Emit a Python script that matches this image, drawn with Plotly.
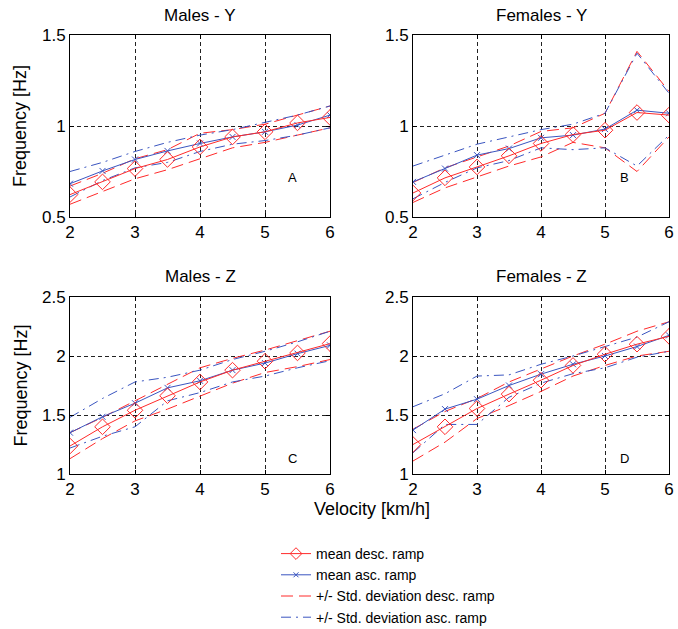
import plotly.graph_objects as go

vel = [2, 2.5, 3, 3.5, 4, 4.5, 5, 5.5, 6]

# Panel A: Males - Y
a_desc = [0.623, 0.693, 0.766, 0.816, 0.885, 0.940, 0.968, 1.017, 1.047]
a_asc = [0.683, 0.753, 0.816, 0.863, 0.904, 0.940, 0.968, 1.005, 1.060]
a_desc_up = [0.67, 0.74, 0.82, 0.87, 0.96, 0.98, 1.01, 1.06, 1.11]
a_desc_lo = [0.57, 0.64, 0.71, 0.76, 0.82, 0.88, 0.91, 0.95, 0.99]
a_asc_up = [0.75, 0.80, 0.86, 0.91, 0.95, 0.98, 1.02, 1.06, 1.11]
a_asc_lo = [0.61, 0.70, 0.77, 0.80, 0.86, 0.90, 0.92, 0.95, 0.99]

# Panel B: Females - Y
b_desc = [0.632, 0.715, 0.775, 0.836, 0.904, 0.953, 0.977, 1.074, 1.060]
b_asc = [0.693, 0.766, 0.840, 0.876, 0.935, 0.950, 0.983, 1.087, 1.070]
b_desc_up = [0.69, 0.77, 0.83, 0.89, 0.97, 0.99, 1.07, 1.41, 1.19]
b_desc_lo = [0.58, 0.66, 0.72, 0.78, 0.83, 0.91, 0.88, 0.75, 0.94]
b_asc_up = [0.78, 0.84, 0.90, 0.94, 0.98, 1.01, 1.07, 1.40, 1.18]
b_asc_lo = [0.60, 0.69, 0.77, 0.81, 0.88, 0.87, 0.88, 0.78, 0.95]

# Panel C: Males - Z
c_desc = [1.237, 1.400, 1.540, 1.663, 1.780, 1.880, 1.956, 2.026, 2.105]
c_asc = [1.350, 1.485, 1.600, 1.730, 1.790, 1.880, 1.940, 2.020, 2.090]
c_desc_up = [1.35, 1.48, 1.62, 1.76, 1.90, 1.98, 2.05, 2.13, 2.21]
c_desc_lo = [1.13, 1.30, 1.45, 1.55, 1.66, 1.77, 1.86, 1.91, 1.97]
c_asc_up = [1.48, 1.64, 1.78, 1.82, 1.88, 1.97, 2.04, 2.12, 2.21]
c_asc_lo = [1.22, 1.32, 1.40, 1.62, 1.69, 1.78, 1.83, 1.90, 1.96]

# Panel D: Females - Z
d_desc = [1.250, 1.400, 1.555, 1.677, 1.795, 1.920, 2.015, 2.100, 2.167]
d_asc = [1.372, 1.550, 1.634, 1.750, 1.846, 1.930, 2.000, 2.080, 2.175]
d_desc_up = [1.38, 1.53, 1.64, 1.78, 1.89, 2.00, 2.10, 2.21, 2.29]
d_desc_lo = [1.11, 1.27, 1.47, 1.58, 1.70, 1.83, 1.92, 2.00, 2.04]
d_asc_up = [1.57, 1.68, 1.83, 1.84, 1.93, 2.00, 2.08, 2.16, 2.29]
d_asc_lo = [1.18, 1.42, 1.42, 1.65, 1.77, 1.85, 1.90, 1.99, 2.04]

panel_titles = ["Males - Y", "Females - Y", "Males - Z", "Females - Z"]
panel_letters = ["A", "B", "C", "D"]
legend_names = ["mean desc. ramp", "mean asc. ramp",
                "+/- Std. deviation desc. ramp", "+/- Std. deviation asc. ramp"]

RED = "#ff2a2a"
BLUE = "#3a55c0"
FONT = "Liberation Sans, Arial, sans-serif"
W, H = 678, 629

panels = [
    (a_desc, a_asc, a_desc_up, a_desc_lo, a_asc_up, a_asc_lo),
    (b_desc, b_asc, b_desc_up, b_desc_lo, b_asc_up, b_asc_lo),
    (c_desc, c_asc, c_desc_up, c_desc_lo, c_asc_up, c_asc_lo),
    (d_desc, d_asc, d_desc_up, d_desc_lo, d_asc_up, d_asc_lo),
]

# pixel boxes (left, right, top, bottom)
boxes = [(70, 330, 35, 217), (413, 669, 35, 217),
         (70, 330, 297, 474), (413, 669, 297, 474)]
yranges = [[0.5, 1.5], [0.5, 1.5], [1, 2.5], [1, 2.5]]
yticks = [[0.5, 1, 1.5], [0.5, 1, 1.5], [1, 1.5, 2, 2.5], [1, 1.5, 2, 2.5]]
ytext = [["0.5", "1", "1.5"], ["0.5", "1", "1.5"], ["1", "1.5", "2", "2.5"], ["1", "1.5", "2", "2.5"]]
letter_pos = [(5.42, 0.715), (5.3, 0.715), (5.42, 1.13), (5.3, 1.13)]

fig = go.Figure()
layout = dict(width=W, height=H, margin=dict(l=0, r=0, t=0, b=0, autoexpand=False),
              paper_bgcolor="white", plot_bgcolor="white",
              font=dict(family=FONT, size=16, color="black"))
annotations = []

for i, (desc, asc, dup, dlo, aup, alo) in enumerate(panels):
    n = "" if i == 0 else str(i + 1)
    xa, ya = "x" + n, "y" + n
    common = dict(x=vel, xaxis=xa, yaxis=ya)
    fig.add_trace(go.Scatter(y=dup, mode="lines", name=legend_names[2], legendgroup="sd",
                             showlegend=False, line=dict(color=RED, width=1, dash="12px,6px"), **common))
    fig.add_trace(go.Scatter(y=dlo, mode="lines", name=legend_names[2], legendgroup="sd",
                             showlegend=False, line=dict(color=RED, width=1, dash="12px,6px"), **common))
    fig.add_trace(go.Scatter(y=aup, mode="lines", name=legend_names[3], legendgroup="sa",
                             showlegend=False, line=dict(color=BLUE, width=1, dash="10px,5px,2px,5px"), **common))
    fig.add_trace(go.Scatter(y=alo, mode="lines", name=legend_names[3], legendgroup="sa",
                             showlegend=False, line=dict(color=BLUE, width=1, dash="10px,5px,2px,5px"), **common))
    fig.add_trace(go.Scatter(y=asc, mode="lines+markers", name=legend_names[1], legendgroup="ma",
                             showlegend=False, line=dict(color=BLUE, width=1),
                             marker=dict(symbol="x-thin-open", size=6, color=BLUE, line=dict(width=1, color=BLUE)), **common))
    fig.add_trace(go.Scatter(y=desc, mode="lines+markers", name=legend_names[0], legendgroup="md",
                             showlegend=False, line=dict(color=RED, width=1),
                             marker=dict(symbol="diamond-open", size=12, color=RED, line=dict(width=1, color=RED)), **common))

    l, r, t, b = boxes[i]
    axis_common = dict(showline=True, linecolor="black", linewidth=1, mirror="ticks",
                       ticks="inside", ticklen=4, tickcolor="black", automargin=False,
                       showgrid=True, gridcolor="#222222", gridwidth=1, griddash="4px,3px",
                       zeroline=False, tickfont=dict(size=17, family=FONT))
    layout["xaxis" + n] = dict(domain=[l / W, r / W], range=[2, 6], anchor=ya,
                               tickvals=[2, 3, 4, 5, 6], ticktext=["2", "3", "4", "5", "6"], **axis_common)
    layout["yaxis" + n] = dict(domain=[1 - b / H, 1 - t / H], range=yranges[i], anchor=xa,
                               tickvals=yticks[i], ticktext=ytext[i], **axis_common)
    annotations.append(dict(text=panel_titles[i], x=(l + r) / 2 / W, y=1 - (t - 20) / H,
                            xref="paper", yref="paper", showarrow=False,
                            font=dict(size=17, family=FONT), xanchor="center", yanchor="middle"))
    lx, ly = letter_pos[i]
    annotations.append(dict(text=panel_letters[i], x=lx, y=ly, xref=xa, yref=ya, showarrow=False,
                            font=dict(size=13, family=FONT), xanchor="center", yanchor="middle"))

# legend-only traces
fig.add_trace(go.Scatter(x=[None], y=[None], mode="lines+markers", name=legend_names[0],
                         line=dict(color=RED, width=1),
                         marker=dict(symbol="diamond-open", size=9, color=RED)))
fig.add_trace(go.Scatter(x=[None], y=[None], mode="lines+markers", name=legend_names[1],
                         line=dict(color=BLUE, width=1),
                         marker=dict(symbol="x-thin-open", size=5, color=BLUE, line=dict(width=1, color=BLUE))))
fig.add_trace(go.Scatter(x=[None], y=[None], mode="lines", name=legend_names[2],
                         line=dict(color=RED, width=1, dash="12px,6px")))
fig.add_trace(go.Scatter(x=[None], y=[None], mode="lines", name=legend_names[3],
                         line=dict(color=BLUE, width=1, dash="10px,5px,2px,5px")))

for ann_y, ann_x in [((35 + 217) / 2, 20), ((297 + 474) / 2, 20)]:
    annotations.append(dict(text="Frequency [Hz]", x=ann_x / W, y=1 - ann_y / H, xref="paper", yref="paper",
                            showarrow=False, textangle=-90, font=dict(size=18, family=FONT),
                            xanchor="center", yanchor="middle"))
annotations.append(dict(text="Velocity [km/h]", x=372 / W, y=1 - 509 / H, xref="paper", yref="paper",
                        showarrow=False, font=dict(size=18, family=FONT), xanchor="center", yanchor="middle"))

layout["annotations"] = annotations
layout["showlegend"] = True
layout["legend"] = dict(x=276 / W, y=1 - 538 / H, xanchor="left", yanchor="top",
                        bgcolor="rgba(0,0,0,0)", font=dict(size=14, family=FONT),
                        tracegroupgap=0, itemwidth=30)
fig.update_layout(**layout)
fig.write_html("out.html", config={"displayModeBar": False},
               post_script="document.body.style.margin='0';document.body.style.overflow='hidden';")
